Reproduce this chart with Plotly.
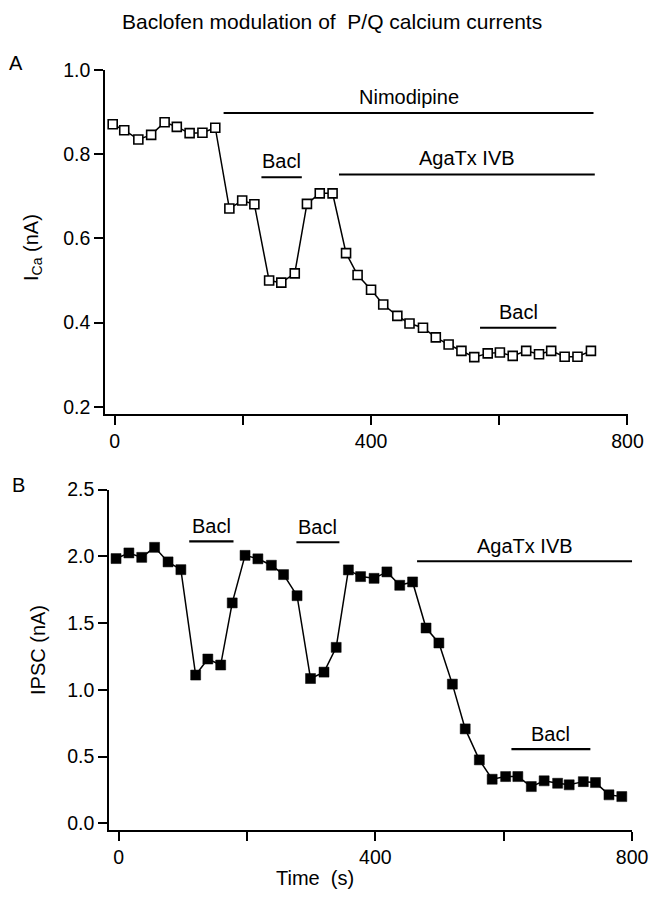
import plotly.graph_objects as go

# ---------------- data ----------------
t_a = [-3, 15, 37, 57, 78, 97, 117, 137, 157, 179, 199, 218, 241, 260, 281, 300, 320, 340, 361, 379,
       400, 419, 441, 460, 481, 501, 521, 541, 561, 582, 601, 621, 642, 662, 681, 702, 722, 743]
ica = [0.871, 0.857, 0.835, 0.846, 0.876, 0.865, 0.850, 0.851, 0.863, 0.671, 0.690, 0.681, 0.500,
       0.495, 0.517, 0.682, 0.707, 0.707, 0.565, 0.513, 0.478, 0.443, 0.416, 0.398, 0.388, 0.365,
       0.348, 0.333, 0.318, 0.327, 0.329, 0.321, 0.333, 0.325, 0.333, 0.319, 0.319, 0.333]

t_b = [-4, 16, 36, 56, 77, 97, 120, 139, 159, 177, 197, 217, 238, 257, 278, 299, 320, 339, 358, 377,
       398, 418, 438, 458, 479, 499, 520, 540, 562, 582, 603, 622, 643, 663, 684, 702, 724, 743, 764, 784]
ipsc = [1.983, 2.025, 1.992, 2.067, 1.958, 1.900, 1.111, 1.231, 1.186, 1.651, 2.007, 1.981, 1.933,
        1.863, 1.705, 1.085, 1.133, 1.318, 1.898, 1.848, 1.835, 1.883, 1.783, 1.808, 1.463, 1.351,
        1.043, 0.708, 0.476, 0.331, 0.351, 0.351, 0.276, 0.319, 0.301, 0.289, 0.313, 0.306, 0.214, 0.201]

# drug application bars: label, start, end, level
bars_a_labels = ["Nimodipine", "Bacl", "AgaTx IVB", "Bacl"]
bars_a_start = [170, 229, 350, 570]
bars_a_end = [747, 292, 749, 689]
bars_a_level = [0.898, 0.745, 0.752, 0.388]

bars_b_labels = ["Bacl", "Bacl", "AgaTx IVB", "Bacl"]
bars_b_start = [110, 277, 465, 612]
bars_b_end = [179, 344, 800, 735]
bars_b_level = [2.112, 2.105, 1.963, 0.556]

x_major_ticks = [0, 400, 800]
x_minor_ticks = [200, 600]
ya_tickvals = [0.2, 0.4, 0.6, 0.8, 1.0]
yb_tickvals = [0.0, 0.5, 1.0, 1.5, 2.0, 2.5]

# ---------------- figure ----------------
PAGE_MARGIN = 8          # default body margin of the html page
W, H = 657 - 2 * PAGE_MARGIN, 899 - 2 * PAGE_MARGIN
FONT = "Liberation Sans, Arial, Helvetica, sans-serif"


def px(x):
    return (x - PAGE_MARGIN) / W


def py(y):
    return 1 - (y - PAGE_MARGIN) / H


fig = go.Figure()

fig.add_trace(go.Scatter(
    x=t_a, y=ica, mode="lines+markers", xaxis="x", yaxis="y",
    line=dict(color="black", width=1.5),
    marker=dict(symbol="square", size=9, color="white", line=dict(color="black", width=1.6)),
    showlegend=False,
))
fig.add_trace(go.Scatter(
    x=t_b, y=ipsc, mode="lines+markers", xaxis="x2", yaxis="y2",
    line=dict(color="black", width=1.5),
    marker=dict(symbol="square", size=10, color="black", line=dict(color="black", width=0.5)),
    showlegend=False,
))

axis_common = dict(
    showline=True, linecolor="black", linewidth=1.5,
    ticks="outside", ticklen=9, tickwidth=1.5, tickcolor="black",
    showgrid=False, zeroline=False, mirror=False, automargin=False,
    ticklabeloverflow="allow",
    tickfont=dict(family=FONT, size=19.5, color="black"),
)
x_common = dict(
    tickmode="array", tickvals=x_major_ticks, tickformat="d",
    minor=dict(tickmode="array", tickvals=x_minor_ticks, ticks="outside", ticklen=9,
               tickwidth=1.5, tickcolor="black", showgrid=False),
)

fig.update_layout(
    width=W, height=H,
    margin=dict(l=0, r=0, t=0, b=0, pad=0, autoexpand=False),
    paper_bgcolor="white", plot_bgcolor="white",
    xaxis=dict(domain=[px(105), px(627.8)], range=[-15, 800.5], anchor="y",
               **x_common, **axis_common),
    yaxis=dict(domain=[py(414), py(70)], range=[0.183, 1.0], anchor="x",
               tickmode="array", tickvals=ya_tickvals, tickformat=".1f", **axis_common),
    xaxis2=dict(domain=[px(109), px(632.4)], range=[-15, 800.5], anchor="y2",
                **x_common, **axis_common),
    yaxis2=dict(domain=[py(830), py(489.5)], range=[-0.049, 2.5], anchor="x2",
                tickmode="array", tickvals=yb_tickvals, tickformat=".1f", **axis_common),
    font=dict(family=FONT, color="black"),
)

shapes = []
annotations = []
for lab, s, e, lv in zip(bars_a_labels, bars_a_start, bars_a_end, bars_a_level):
    shapes.append(dict(type="line", xref="x", yref="y", x0=s, x1=e, y0=lv, y1=lv,
                       line=dict(color="black", width=2)))
    annotations.append(dict(xref="x", yref="y", x=(s + e) / 2, y=lv, yshift=16,
                            text=lab, showarrow=False, xanchor="center", yanchor="middle",
                            font=dict(family=FONT, size=20, color="black")))
for lab, s, e, lv in zip(bars_b_labels, bars_b_start, bars_b_end, bars_b_level):
    shapes.append(dict(type="line", xref="x2", yref="y2", x0=s, x1=e, y0=lv, y1=lv,
                       line=dict(color="black", width=2.2)))
    annotations.append(dict(xref="x2", yref="y2", x=(s + e) / 2, y=lv, yshift=15,
                            text=lab, showarrow=False, xanchor="center", yanchor="middle",
                            font=dict(family=FONT, size=20, color="black")))


def label(x, y, text, size=20, angle=0):
    return dict(xref="paper", yref="paper", x=px(x), y=py(y), text=text, showarrow=False,
                xanchor="center", yanchor="middle", textangle=angle,
                font=dict(family=FONT, size=size, color="black"))


annotations += [
    label(331.5, 21, "Baclofen modulation of  P/Q calcium currents", size=21),
    label(16, 63, "A"),
    label(18, 485, "B"),
    label(33, 248, "I<sub>Ca</sub> (nA)", angle=-90),
    label(38, 650, "IPSC (nA)", angle=-90),
    label(315, 878, "Time  (s)"),
]

fig.update_layout(shapes=shapes, annotations=annotations)

fig.write_html("out.html")
